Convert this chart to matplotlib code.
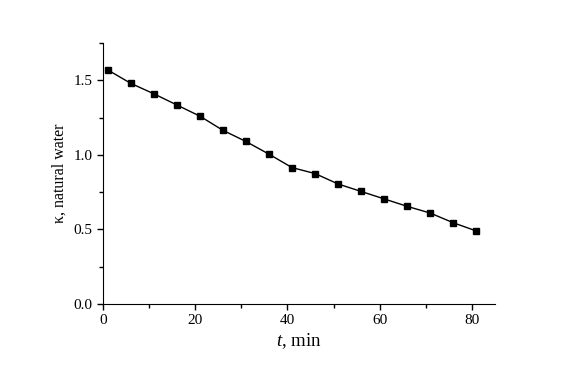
import numpy as np
import matplotlib
matplotlib.use('Agg')
import matplotlib.pyplot as plt
from matplotlib.ticker import MultipleLocator

t_min = [1, 6, 11, 16, 21, 26, 31, 36, 41, 46, 51, 56, 61, 66, 71, 76, 81]
kappa = [1.57, 1.48, 1.41, 1.335, 1.26, 1.165, 1.09, 1.005, 0.915, 0.875,
         0.805, 0.755, 0.705, 0.655, 0.61, 0.545, 0.49]

plt.rcParams['font.family'] = ['Liberation Serif', 'DejaVu Serif']
plt.rcParams['mathtext.fontset'] = 'custom'
plt.rcParams['mathtext.it'] = 'Liberation Serif:italic'
plt.rcParams['mathtext.rm'] = 'Liberation Serif'

fig = plt.figure(figsize=(5.76, 3.65), dpi=100)
ax = fig.add_axes([0.179, 0.167, 0.68, 0.715])

ax.plot(t_min, kappa, color='black', lw=1, marker='s', ms=5)

ax.set_xlim(0, 85)
ax.set_ylim(0, 1.75)
ax.xaxis.set_major_locator(MultipleLocator(20))
ax.xaxis.set_minor_locator(MultipleLocator(10))
ax.yaxis.set_major_locator(MultipleLocator(0.5))
ax.yaxis.set_minor_locator(MultipleLocator(0.25))
ax.yaxis.set_major_formatter(matplotlib.ticker.FormatStrFormatter('%.1f'))

for s in ['top', 'right']:
    ax.spines[s].set_visible(False)
ax.tick_params(which='both', direction='out', labelsize=11, width=1)
ax.tick_params(which='major', length=4)
ax.tick_params(which='minor', length=3)

ax.set_xlabel(r'$t$, min', fontsize=13.5, labelpad=3)
ax.set_ylabel('κ, natural water', fontsize=11.5, labelpad=4)

fig.savefig('out.png', dpi=100)
